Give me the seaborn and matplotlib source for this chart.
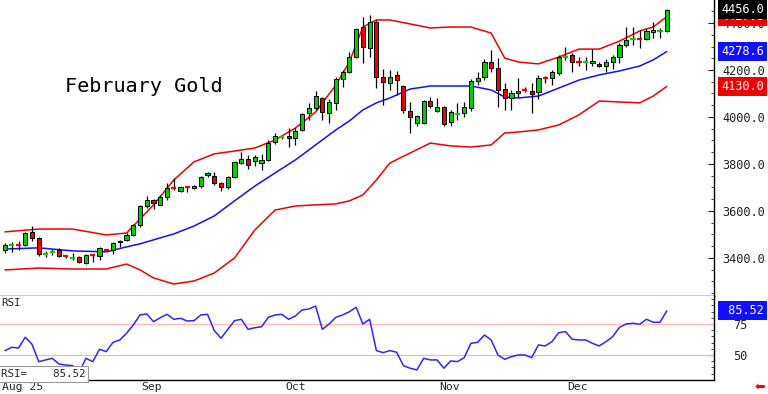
import numpy as np
import pandas as pd
import matplotlib
matplotlib.use("Agg")
import matplotlib.pyplot as plt
import matplotlib.transforms as mtransforms
from matplotlib.ticker import MultipleLocator
import seaborn as sns

# daily OHLC (early Aug .. Dec 19)
opens = [3434, 3452, 3455, 3455, 3511, 3485, 3416, 3425, 3434, 3408,
         3400, 3404, 3379, 3415, 3408, 3434, 3434, 3466, 3477, 3498,
         3540, 3621, 3647, 3626, 3660, 3700, 3685, 3702, 3698, 3706,
         3751, 3749, 3719, 3702, 3745, 3804, 3821, 3813, 3804, 3817,
         3894, 3913, 3919, 3911, 3945, 4017, 4038, 4081, 4017, 4060,
         4162, 4191, 4255, 4383, 4294, 4404, 4170, 4145, 4179, 4132,
         4026, 3974, 3974, 4068, 4026, 4043, 3979, 4011, 4017, 4038,
         4153, 4170, 4234, 4208, 4119, 4081, 4102, 4117, 4111, 4106,
         4168, 4166, 4187, 4253, 4264, 4234, 4232, 4230, 4226, 4217,
         4234, 4255, 4306, 4330, 4332, 4332, 4362, 4364, 4366]
highs = [3464, 3468, 3472, 3511, 3536, 3489, 3430, 3438, 3442, 3413,
         3421, 3408, 3417, 3417, 3447, 3438, 3468, 3477, 3506, 3545,
         3626, 3664, 3651, 3668, 3719, 3740, 3706, 3706, 3711, 3749,
         3766, 3766, 3723, 3749, 3813, 3851, 3838, 3838, 3842, 3902,
         3932, 3919, 3953, 3953, 4017, 4060, 4111, 4085, 4077, 4170,
         4200, 4277, 4379, 4426, 4434, 4413, 4204, 4200, 4196, 4136,
         4064, 4009, 4072, 4085, 4081, 4047, 4030, 4060, 4064, 4162,
         4191, 4247, 4285, 4251, 4145, 4115, 4166, 4128, 4145, 4179,
         4174, 4200, 4264, 4298, 4272, 4255, 4255, 4289, 4234, 4247,
         4264, 4315, 4383, 4383, 4370, 4379, 4404, 4379, 4460]
lows = [3421, 3425, 3434, 3451, 3472, 3408, 3404, 3413, 3404, 3400,
        3392, 3379, 3374, 3383, 3392, 3430, 3417, 3447, 3472, 3494,
        3532, 3613, 3609, 3626, 3647, 3690, 3681, 3681, 3694, 3698,
        3745, 3711, 3685, 3694, 3740, 3800, 3779, 3792, 3775, 3813,
        3885, 3906, 3872, 3881, 3940, 3987, 4030, 3987, 3974, 4030,
        4128, 4187, 4251, 4230, 4255, 4123, 4051, 4115, 4094, 4017,
        3932, 3962, 3970, 4038, 4021, 3962, 3962, 3987, 4000, 4026,
        4136, 4157, 4191, 4043, 4030, 4030, 4085, 4106, 4017, 4077,
        4145, 4136, 4179, 4243, 4191, 4217, 4200, 4217, 4213, 4191,
        4204, 4230, 4298, 4306, 4294, 4328, 4336, 4336, 4362]
closes = [3455, 3455, 3453, 3506, 3485, 3417, 3419, 3428, 3408, 3406,
          3402, 3383, 3413, 3413, 3442, 3432, 3464, 3474, 3498, 3540,
          3621, 3647, 3634, 3660, 3698, 3698, 3702, 3700, 3706, 3745,
          3760, 3719, 3702, 3745, 3809, 3821, 3796, 3830, 3817, 3889,
          3919, 3915, 3911, 3940, 4013, 4038, 4089, 4021, 4064, 4162,
          4191, 4255, 4374, 4298, 4404, 4170, 4149, 4170, 4157, 4030,
          4000, 4004, 4068, 4047, 4043, 3970, 4021, 4013, 4043, 4153,
          4166, 4234, 4208, 4115, 4081, 4102, 4111, 4115, 4098, 4166,
          4166, 4191, 4255, 4255, 4234, 4232, 4234, 4238, 4217, 4234,
          4255, 4306, 4328, 4332, 4330, 4366, 4370, 4366, 4456]

# Bollinger bands, sampled at these bars
band_at = [0, 5, 10, 15, 18, 20, 22, 25, 28, 31, 34, 37, 40, 43, 46, 49, 51,
           53, 55, 57, 60, 63, 66, 69, 72, 74, 76, 79, 82, 85, 88, 91, 94, 96, 98]
upper_band = [3511, 3523, 3523, 3498, 3506, 3566, 3626, 3732, 3809, 3843, 3855,
              3868, 3902, 3953, 4021, 4136, 4234, 4383, 4413, 4413, 4396, 4379,
              4383, 4383, 4357, 4251, 4234, 4226, 4255, 4289, 4289, 4323, 4366,
              4383, 4427]
middle_band = [3438, 3443, 3430, 3426, 3447, 3460, 3477, 3502, 3536, 3579, 3643,
               3706, 3762, 3817, 3881, 3945, 3983, 4030, 4060, 4081, 4119, 4132,
               4132, 4132, 4115, 4085, 4081, 4089, 4123, 4157, 4179, 4196, 4217,
               4243, 4278.6]
lower_band = [3349, 3357, 3353, 3353, 3374, 3349, 3315, 3289, 3302, 3336, 3400,
              3519, 3604, 3621, 3626, 3630, 3643, 3668, 3732, 3804, 3847, 3889,
              3877, 3872, 3881, 3932, 3936, 3945, 3966, 4009, 4068, 4064, 4060,
              4089, 4130]

rsi = [53.5, 56.2, 55.6, 64.3, 58.6, 44.6, 46.0, 47.3, 42.7, 41.9,
       41.4, 36.5, 47.3, 44.6, 54.6, 52.7, 60.2, 62.1, 67.5, 74.2,
       82.3, 83.1, 76.9, 80.1, 82.8, 78.8, 79.6, 77.4, 77.7, 82.3,
       82.8, 69.6, 63.5, 70.7, 77.7, 78.8, 70.7, 72.0, 72.8, 80.4,
       82.3, 82.8, 78.8, 81.5, 86.3, 87.1, 89.5, 70.7, 75.0, 80.4,
       82.3, 84.9, 88.5, 75.0, 78.8, 53.5, 51.9, 53.5, 52.2, 41.4,
       39.3, 37.9, 47.3, 46.0, 46.0, 39.3, 45.2, 44.6, 47.8, 59.4,
       60.2, 66.1, 62.1, 50.0, 46.5, 48.6, 50.0, 50.0, 47.8, 58.1,
       57.3, 60.7, 68.0, 68.8, 62.7, 62.1, 62.1, 59.4, 57.3, 60.7,
       64.8, 72.3, 75.0, 75.6, 74.8, 78.8, 76.4, 76.4, 85.52]

month_labels = ["Aug 25", "Sep", "Oct", "Nov", "Dec"]
month_ticks = [-0.74, 19.9, 41.2, 64.0, 83.0]

sns.set_style("white")
plt.rcParams["font.family"] = ["DejaVu Sans Mono", "DejaVu Sans"]

W, H = 768, 394
fig = plt.figure(figsize=(W / 100, H / 100), dpi=100)
ax = fig.add_axes([0, (H - 296) / H, 714 / W, 296 / H])
ax2 = fig.add_axes([0, (H - 380) / H, 714 / W, 84 / H], sharex=ax)

df = pd.DataFrame({"x": np.arange(len(closes)), "o": opens, "h": highs,
                   "l": lows, "c": closes})
bands = pd.DataFrame({"x": band_at, "up": upper_band, "mid": middle_band,
                      "lo": lower_band})

GREEN, RED, BLUE = "#00d000", "#f00000", "#1010ff"

sns.lineplot(data=bands, x="x", y="up", color=RED, lw=1.1, ax=ax, zorder=2)
sns.lineplot(data=bands, x="x", y="lo", color=RED, lw=1.1, ax=ax, zorder=2)
sns.lineplot(data=bands, x="x", y="mid", color=BLUE, lw=1.1, ax=ax, zorder=2)

# candles
ax.vlines(df.x, df.l, df.h, color="black", lw=0.9, zorder=3)
up = (df.c >= df.o).values
col = np.where(up, GREEN, RED)
doji = ((df.c - df.o).abs() <= 5).values
ax.bar(df.x[~doji], (df.c - df.o)[~doji], bottom=df.o[~doji], width=0.62,
       color=col[~doji], edgecolor="black", lw=0.7, zorder=4)
mid = ((df.o + df.c) / 2)[doji]
ax.hlines(mid, df.x[doji] - 0.38, df.x[doji] + 0.38, colors=col[doji], lw=1.6, zorder=4)

ax.set_xlim(-0.74, 105.0)
ax.set_ylim(3238, 4498)
ax.set_xlabel("")
ax.set_ylabel("")
ax.yaxis.tick_right()
ax.set_yticks([3400, 3600, 3800, 4000, 4200, 4400])
ax.set_yticklabels([f"{v:.1f}" for v in [3400, 3600, 3800, 4000, 4200, 4400]])
ax.yaxis.set_minor_locator(MultipleLocator(50))
ax.tick_params(axis="y", which="major", direction="in", length=4, width=0.8,
               pad=6, labelsize=8.6, colors="#222222")
ax.tick_params(axis="y", which="minor", direction="in", length=2, width=0.6)
ax.tick_params(axis="x", bottom=False, labelbottom=False)
for s in ["left", "top"]:
    ax.spines[s].set_visible(False)
for s in ["right", "bottom"]:
    ax.spines[s].set_color("black")
    ax.spines[s].set_linewidth(1.0)

trans = mtransforms.blended_transform_factory(ax.transAxes, ax.transData)
xl = 1 + 7 / 714
ax.text(xl, 4427, "4427.0", transform=trans, color="white", fontsize=8.6,
        va="center", ha="left", clip_on=False, zorder=10,
        bbox=dict(boxstyle="square,pad=0.25", fc=RED, ec="none"))
ax.text(xl, 4456, "4456.0", transform=trans, color="white", fontsize=8.6,
        va="center", ha="left", clip_on=False, zorder=11,
        bbox=dict(boxstyle="square,pad=0.25", fc="black", ec="none"))
ax.text(xl, 4278.6, "4278.6", transform=trans, color="white", fontsize=8.6,
        va="center", ha="left", clip_on=False, zorder=10,
        bbox=dict(boxstyle="square,pad=0.25", fc=BLUE, ec="none"))
ax.text(xl, 4130, "4130.0", transform=trans, color="white", fontsize=8.6,
        va="center", ha="left", clip_on=False, zorder=10,
        bbox=dict(boxstyle="square,pad=0.25", fc=RED, ec="none"))

fig.text(65 / W, 1 - 86 / H, "February Gold", fontsize=14.5, va="center",
         ha="left", color="black")

# RSI panel
ax2.axhline(75, color="#ffb8b8", lw=0.9, zorder=1)
ax2.axhline(50, color="#c8c8c8", lw=0.9, zorder=1)
sns.lineplot(x=df.x, y=rsi, color="#2828ff", lw=1.1, ax=ax2, zorder=3)
ax2.set_ylim(29.8, 97.6)
ax2.set_xlabel("")
ax2.set_ylabel("")
ax2.yaxis.tick_right()
ax2.set_yticks([50, 75])
ax2.set_yticklabels(["50", "75"])
ax2.yaxis.set_minor_locator(MultipleLocator(5))
ax2.tick_params(axis="y", which="major", direction="in", length=4, width=0.8,
                pad=14, labelsize=8.6, colors="#222222")
ax2.tick_params(axis="y", which="minor", direction="in", length=2, width=0.6)
ax2.set_xticks(month_ticks[1:])
ax2.tick_params(axis="x", direction="out", length=10.5, width=0.8,
                colors="#444444", labelbottom=False)
for s in ["left", "top"]:
    ax2.spines[s].set_visible(False)
for s in ["right", "bottom"]:
    ax2.spines[s].set_color("black")
    ax2.spines[s].set_linewidth(1.0)

trans2 = mtransforms.blended_transform_factory(ax2.transAxes, ax2.transData)
ax2.text(1 + 7 / 714, 85.52, " 85.52", transform=trans2, color="white",
         fontsize=8.6, va="center", ha="left", clip_on=False, zorder=10,
         bbox=dict(boxstyle="square,pad=0.25", fc=BLUE, ec="none"))

fig.text(1 / W, 1 - 303 / H, "RSI", fontsize=7.8, va="center", ha="left")
fig.text(1 / W, 1 - 374 / H, "RSI=    85.52", fontsize=7.8, va="center", ha="left",
         zorder=10, bbox=dict(boxstyle="square,pad=0.25", fc="white", ec="#999999", lw=0.8))

xtr = mtransforms.blended_transform_factory(ax2.transData, fig.transFigure)
for lab, t in zip(month_labels, month_ticks):
    ax2.text(t + 0.3, 1 - 387 / H, lab, transform=xtr, fontsize=8.2,
             va="center", ha="left", clip_on=False)

fig.text(760 / W, 1 - 388 / H, "\u2b05", color="red", fontsize=9,
         va="center", ha="center", family="DejaVu Sans")

fig.savefig("out.png", dpi=100)
